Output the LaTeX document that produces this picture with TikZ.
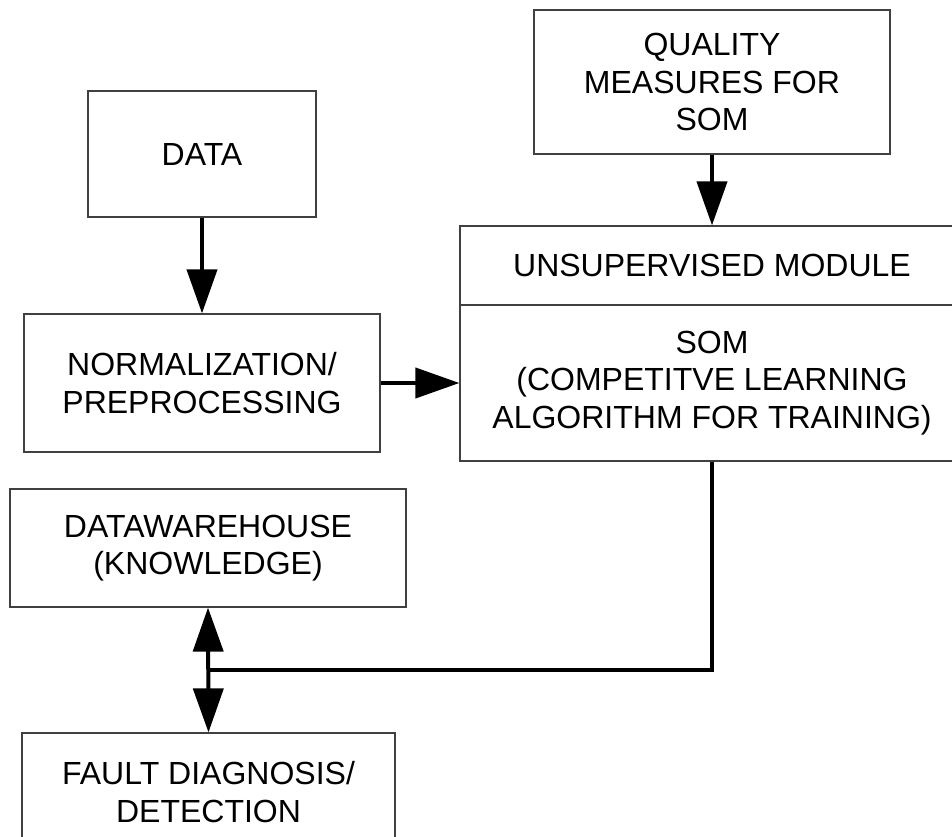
\documentclass[tikz,border=0pt]{standalone}
\usepackage{fontspec}
\setmainfont{Liberation Sans}
\usetikzlibrary{arrows.meta}
\begin{document}
\begin{tikzpicture}[x=1pt,y=-1pt,
  blk/.style={draw=black!75,line width=1.2pt,fill=white,align=center,
    inner sep=0pt,font=\fontsize{32}{37.5}\selectfont},
  flow/.style={line width=4pt,-{Triangle[length=44pt,width=30pt]}},
  twoway/.style={line width=4pt,{Triangle[length=44pt,width=30pt]}-{Triangle[length=44pt,width=30pt]}}]
\useasboundingbox (0,0) rectangle (952,836);
\clip (0,0) rectangle (952,836);
% blocks
\node[blk,minimum width=228pt,minimum height=126pt] (data) at (202,154) {DATA};
\node[blk,minimum width=356pt,minimum height=144pt] (qual) at (712,82)
  {QUALITY\\MEASURES FOR\\SOM};
\node[blk,minimum width=504pt,minimum height=79pt] (unsup) at (712,265.5)
  {UNSUPERVISED MODULE};
\node[blk,minimum width=504pt,minimum height=156pt] (som) at (712,383)
  {SOM\\(COMPETITVE LEARNING\\ALGORITHM FOR TRAINING)};
\node[blk,minimum width=356pt,minimum height=138pt] (norm) at (202,383)
  {NORMALIZATION/\\PREPROCESSING};
\node[blk,minimum width=396pt,minimum height=118pt] (dw) at (208,548)
  {DATAWAREHOUSE\\(KNOWLEDGE)};
\node[blk,minimum width=373pt,minimum height=118pt] (fault) at (208.5,792)
  {FAULT DIAGNOSIS/\\DETECTION};
\coordinate (junc) at (208,670);
% connectors
\draw[flow] (data.south) -- (norm.north);
\draw[flow] (qual.south) -- (unsup.north);
\draw[flow] (norm.east) -- (som.west);
\draw[line width=4pt] (som.south) |- (junc);
\draw[twoway] (dw.south) -- (fault.north);
\end{tikzpicture}
\end{document}
